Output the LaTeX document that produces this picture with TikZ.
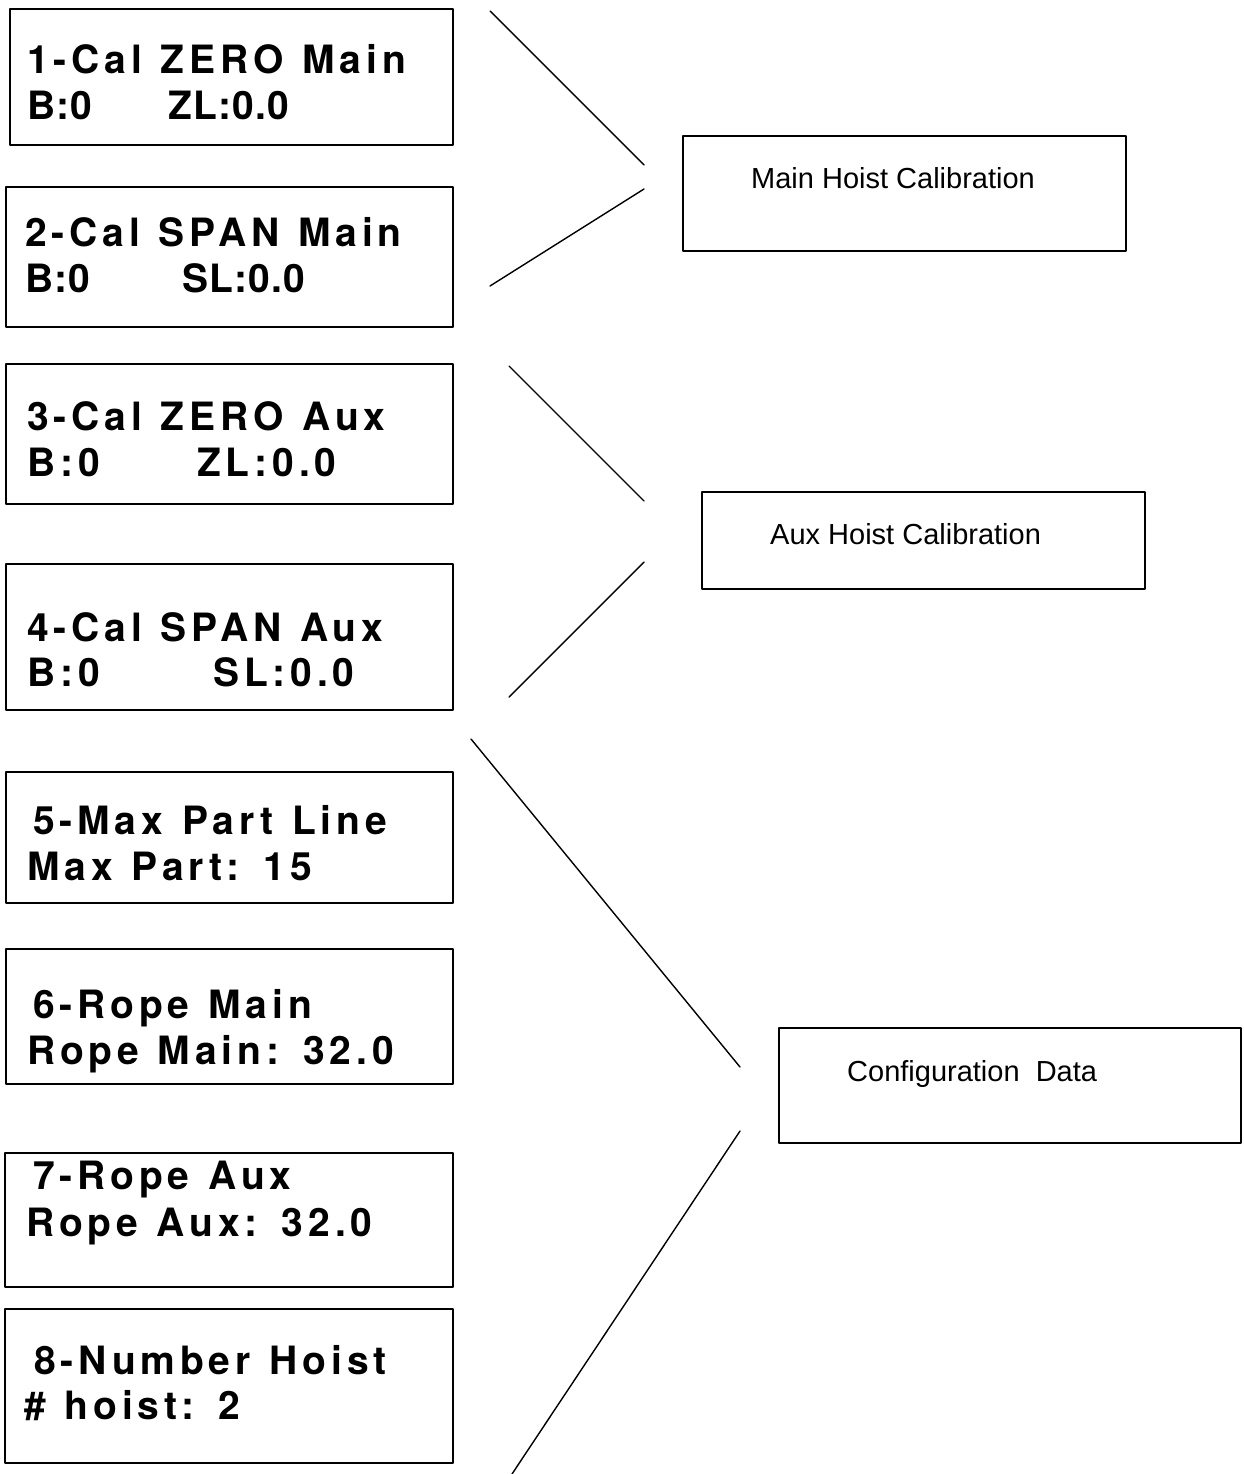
\documentclass[tikz,border=0pt]{standalone}
\usepackage{fontspec}
\setmainfont{Liberation Sans}
\newfontfamily\lcdwide{texgyreheros-bold.otf}[LetterSpace=12.5,WordSpace=1.2]
\newfontfamily\lcdtight{texgyreheros-bold.otf}[LetterSpace=3]

\tikzset{
  lcdbox/.style={draw,line width=2pt,anchor=north west,inner sep=0pt},
  lcdtext/.style={anchor=base west,inner sep=0pt,font=\lcdwide\fontsize{39}{46}\selectfont},
  lcdtxt/.style={anchor=base west,inner sep=0pt,font=\lcdtight\fontsize{39}{46}\selectfont},
  groupbox/.style={draw,line width=2pt,anchor=north west,inner sep=0pt},
  grouptext/.style={anchor=base west,inner sep=0pt,font=\fontsize{29}{34}\selectfont},
}

\begin{document}
\begin{tikzpicture}[line cap=round,line join=round,x=1pt,y=-1pt]
\useasboundingbox (0,0) rectangle (1243,1474);
% display screens
\node[lcdbox,minimum width=443pt,minimum height=136pt] (b1) at (9,8) {};
\node[lcdbox,minimum width=447pt,minimum height=140pt] (b2) at (5,186) {};
\node[lcdbox,minimum width=447pt,minimum height=140pt] (b3) at (5,363) {};
\node[lcdbox,minimum width=447pt,minimum height=146pt] (b4) at (5,563) {};
\node[lcdbox,minimum width=447pt,minimum height=131pt] (b5) at (5,771) {};
\node[lcdbox,minimum width=447pt,minimum height=135pt] (b6) at (5,948) {};
\node[lcdbox,minimum width=448pt,minimum height=134pt] (b7) at (4,1152) {};
\node[lcdbox,minimum width=448pt,minimum height=154pt] (b8) at (4,1308) {};
\node[lcdtext] (t1a) at (27,74) {1-Cal ZERO Main};
\node[lcdtxt] (t1b) at (27,120) {B:0};
\node[lcdtxt] (t1c) at (168,120) {ZL:0.0};
\node[lcdtext] (t2a) at (25,246) {2-Cal SPAN Main};
\node[lcdtxt] (t2b) at (25,292) {B:0};
\node[lcdtxt] (t2c) at (182,292) {SL:0.0};
\node[lcdtext] (t3a) at (27,430) {3-Cal ZERO Aux};
\node[lcdtext] (t3b) at (27,476) {B:0};
\node[lcdtext] (t3c) at (197,476) {ZL:0.0};
\node[lcdtext] (t4a) at (27,641) {4-Cal SPAN Aux};
\node[lcdtext] (t4b) at (27,686) {B:0};
\node[lcdtext] (t4c) at (213,686) {SL:0.0};
\node[lcdtext] (t5a) at (33,834) {5-Max Part Line};
\node[lcdtext] (t5b) at (27,880) {Max Part: 15};
\node[lcdtext] (t6a) at (33,1018) {6-Rope Main};
\node[lcdtext] (t6b) at (27,1064) {Rope Main: 32.0};
\node[lcdtext] (t7a) at (33,1189) {7-Rope Aux};
\node[lcdtext] (t7b) at (26,1236) {Rope Aux: 32.0};
\node[lcdtext] (t8a) at (34,1374) {8-Number Hoist};
\node[lcdtext] (t8b) at (24,1419) {\# hoist: 2};
% groups
\node[groupbox,minimum width=443pt,minimum height=115pt] (main) at (682,135) {};
\node[groupbox,minimum width=443pt,minimum height=97pt] (aux) at (701,491) {};
\node[groupbox,minimum width=462pt,minimum height=115pt] (conf) at (778,1027) {};
\node[grouptext] (maint) at (751,189) {Main Hoist Calibration};
\node[grouptext] (auxt) at (770,544) {Aux Hoist Calibration};
\node[grouptext] (conft) at (847,1081) {Configuration\ \ Data};
% brackets
\coordinate (m1) at (490,11);
\coordinate (m2) at (644,165);
\coordinate (m3) at (644,189);
\coordinate (m4) at (490,286);
\coordinate (a1) at (509,366);
\coordinate (a2) at (644,501);
\coordinate (a3) at (644,562);
\coordinate (a4) at (509,697);
\coordinate (c1) at (471,739);
\coordinate (c2) at (740,1067);
\coordinate (c3) at (740,1131);
\coordinate (c4) at (512,1474);
\draw[line width=1.4pt] (m1)--(m2) (m3)--(m4);
\draw[line width=1.4pt] (a1)--(a2) (a3)--(a4);
\draw[line width=1.4pt] (c1)--(c2) (c3)--(c4);
\end{tikzpicture}
\end{document}
